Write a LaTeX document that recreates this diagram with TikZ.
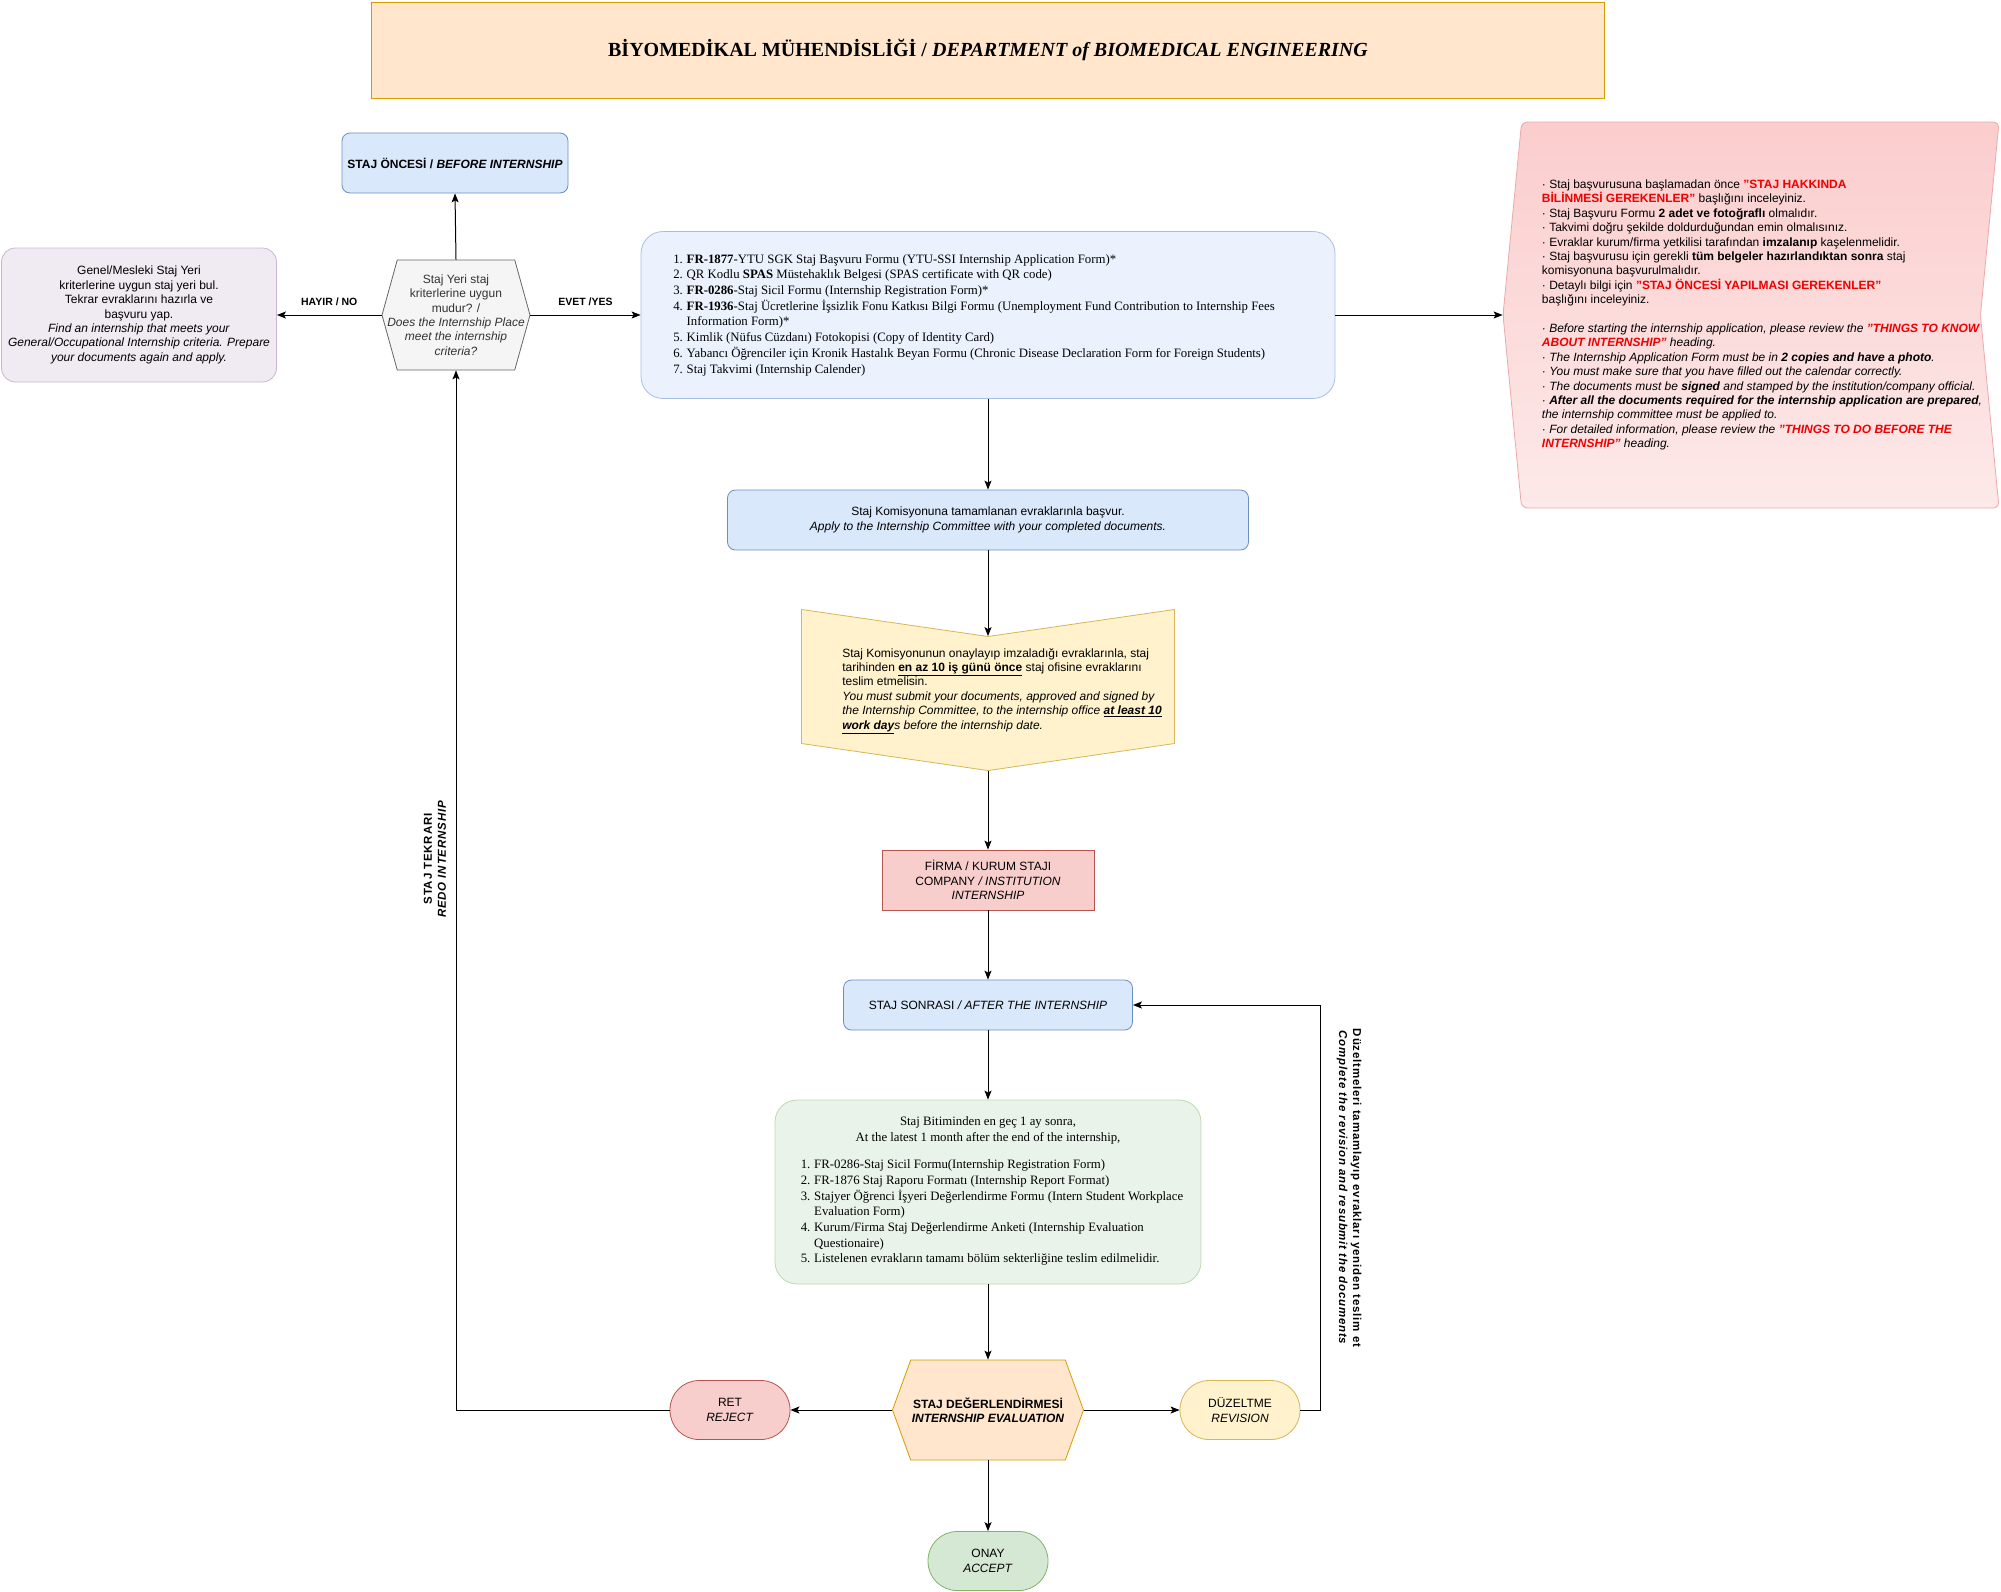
\documentclass[tikz,border=0pt]{standalone}
\usepackage{fontspec}
\setmainfont{Liberation Serif}
\setsansfont{Liberation Sans}
\usetikzlibrary{arrows.meta,shapes.symbols}

\definecolor{titlefill}{HTML}{FFE6CC}
\definecolor{titleline}{HTML}{D79B00}
\definecolor{bluefill}{HTML}{DAE8FC}
\definecolor{blueline}{HTML}{6C8EBF}
\definecolor{paleblue}{HTML}{EBF2FD}
\definecolor{paleblueline}{HTML}{A7BFE0}
\definecolor{greyfill}{HTML}{F5F5F5}
\definecolor{greyline}{HTML}{666666}
\definecolor{greytext}{HTML}{333333}
\definecolor{purplefill}{HTML}{F0EAF3}
\definecolor{purpleline}{HTML}{C8B5D2}
\definecolor{redfill}{HTML}{F8CECC}
\definecolor{redline}{HTML}{B85450}
\definecolor{notetop}{HTML}{FBCDCD}
\definecolor{notebottom}{HTML}{FDE9E9}
\definecolor{noteline}{HTML}{EBA9A7}
\definecolor{yellowfill}{HTML}{FFF2CC}
\definecolor{yellowline}{HTML}{D6B656}
\definecolor{greenfill}{HTML}{D5E8D4}
\definecolor{greenline}{HTML}{82B366}
\definecolor{palegreen}{HTML}{EAF3E9}
\definecolor{palegreenline}{HTML}{BFD8B1}
\definecolor{warnred}{HTML}{F00000}

\newcommand\warn[1]{\textcolor{warnred}{\textbf{#1}}}
\newcommand\ulbold[1]{\textbf{\underline{#1}}}

\tikzset{
  base/.style={draw, line width=0.8pt, align=center, inner sep=0pt,
    font=\sffamily\fontsize{12}{14.4}\selectfont},
  bluebox/.style={base, fill=bluefill, draw=blueline, rounded corners=8pt},
  pill/.style={base, rounded corners=29pt, minimum width=120pt, minimum height=59pt},
  hexa/.style={base, signal, signal to=west and east},
  inside/.style={align=center, inner sep=0pt, font=\sffamily\fontsize{12}{14.4}\selectfont},
  link/.style={-{Stealth[length=9pt,width=7pt,inset=2pt]}, line width=1pt},
  edgetext/.style={font=\sffamily\bfseries\fontsize{10.5}{12}\selectfont},
  sidetext/.style={align=center, font=\sffamily\bfseries\fontsize{11.5}{14}\selectfont\addfontfeature{LetterSpace=7}},
  listfont/.style={font=\rmfamily\fontsize{12.8}{15.7}\selectfont}
}

\begin{document}
\begin{tikzpicture}[x=1pt,y=-1pt]
\useasboundingbox (0,0) rectangle (2001,1591);

% header
\node[base, draw=titleline, fill=titlefill, minimum width=1233pt, minimum height=96pt,
  font=\rmfamily\bfseries\fontsize{20}{24}\selectfont] (title) at (988,50)
  {BİYOMEDİKAL MÜHENDİSLİĞİ / \textit{DEPARTMENT of  BIOMEDICAL ENGINEERING}};

% before the internship
\node[bluebox, minimum width=226pt, minimum height=60pt,
  font=\sffamily\bfseries\fontsize{12}{14.4}\selectfont] (before) at (455,163)
  {STAJ ÖNCESİ / \textit{BEFORE INTERNSHIP}};
\node[hexa, fill=greyfill, draw=greyline, minimum width=148pt, minimum height=110pt,
  signal pointer angle=149] (decide) at (456,315) {};
\node[inside, text=greytext] (decidetext) at (decide.center)
  {Staj Yeri staj\\kriterlerine uygun\\mudur? /\\\textit{Does the Internship Place}\\
   \textit{meet the internship}\\\textit{criteria?}};
\node[base, fill=purplefill, draw=purpleline, rounded corners=14pt,
  minimum width=275pt, minimum height=134pt] (retry) at (139,315)
  {Genel/Mesleki Staj Yeri\\kriterlerine uygun staj yeri bul.\\Tekrar evraklarını hazırla ve\\
   başvuru yap.\\\textit{Find an internship that meets your}\\
   \textit{General/Occupational Internship criteria. Prepare}\\\textit{your documents again and apply.}};
\node[base, listfont, fill=paleblue, draw=paleblueline, rounded corners=22pt,
  minimum width=694pt, minimum height=167pt] (docs) at (988,315)
  {\begin{tabular}{@{}r@{\hspace{0.3em}}l@{\hspace{28pt}}}
   1. & \textbf{FR-1877}-YTU SGK Staj Başvuru Formu (YTU-SSI Internship Application Form)*\\
   2. & QR Kodlu \textbf{SPAS} Müstehaklık Belgesi (SPAS certificate with QR code)\\
   3. & \textbf{FR-0286}-Staj Sicil Formu (Internship Registration Form)*\\
   4. & \textbf{FR-1936}-Staj Ücretlerine İşsizlik Fonu Katkısı Bilgi Formu (Unemployment Fund Contribution to Internship Fees\\
      & Information Form)*\\
   5. & Kimlik (Nüfus Cüzdanı) Fotokopisi (Copy of Identity Card)\\
   6. & Yabancı Öğrenciler için Kronik Hastalık Beyan Formu (Chronic Disease Declaration Form for Foreign Students)\\
   7. & Staj Takvimi (Internship Calender)
   \end{tabular}};
\node[base, signal, signal to=west, signal from=east, signal pointer angle=169,
  top color=notetop, bottom color=notebottom, draw=noteline, rounded corners=6pt,
  minimum width=496pt, minimum height=386pt] (note) at (1751,315) {};
\node[inside, align=left] (notetext) at (1762,315)
  {· Staj başvurusuna başlamadan önce \warn{"STAJ HAKKINDA}\\
   \warn{BİLİNMESİ GEREKENLER"} başlığını inceleyiniz.\\
   · Staj Başvuru Formu \textbf{2 adet ve fotoğraflı} olmalıdır.\\
   · Takvimi doğru şekilde doldurduğundan emin olmalısınız.\\
   · Evraklar kurum/firma yetkilisi tarafından \textbf{imzalanıp} kaşelenmelidir.\\
   · Staj başvurusu için gerekli \textbf{tüm belgeler hazırlandıktan sonra} staj\\
   komisyonuna başvurulmalıdır.\\
   · Detaylı bilgi için \warn{"STAJ ÖNCESİ YAPILMASI GEREKENLER"}\\
   başlığını inceleyiniz.\\[14.4pt]
   \textit{· Before starting the internship application, please review the \warn{"THINGS TO KNOW}}\\
   \textit{\warn{ABOUT INTERNSHIP"} heading.}\\
   \textit{· The Internship Application Form must be in \textbf{2 copies and have a photo}.}\\
   \textit{· You must make sure that you have filled out the calendar correctly.}\\
   \textit{· The documents must be \textbf{signed} and stamped by the institution/company official.}\\
   \textit{· \textbf{After all the documents required for the internship application are prepared},}\\
   \textit{the internship committee must be applied to.}\\
   \textit{· For detailed information, please review the \warn{"THINGS TO DO BEFORE THE}}\\
   \textit{\warn{INTERNSHIP"} heading.}};

% application and internship
\node[bluebox, minimum width=521pt, minimum height=60pt] (apply) at (988,520)
  {Staj Komisyonuna tamamlanan evraklarınla başvur.\\
   \textit{Apply to the Internship Committee with your completed documents.}};
\node[base, signal, signal to=south, signal from=north, signal pointer angle=163.5,
  fill=yellowfill, draw=yellowline, minimum width=373pt, minimum height=107pt] (deliver) at (988,690) {};
\node[inside, align=left] (delivertext) at (1002,691)
  {Staj Komisyonunun onaylayıp imzaladığı evraklarınla, staj\\
   tarihinden \ulbold{en az 10 iş günü önce} staj ofisine evraklarını\\
   teslim etmelisin.\\
   \textit{You must submit your documents, approved and signed by}\\
   \textit{the Internship Committee, to the internship office \ulbold{at least 10}}\\
   \textit{\ulbold{work day}s before the internship date.}};
\node[base, fill=redfill, draw=redline, minimum width=212pt, minimum height=60pt] (company) at (988,880)
  {FİRMA / KURUM STAJI\\COMPANY \textit{/ INSTITUTION}\\\textit{INTERNSHIP}};

% after the internship
\node[bluebox, minimum width=289pt, minimum height=50pt] (after) at (988,1005)
  {STAJ SONRASI \textit{/ AFTER THE INTERNSHIP}};
\node[base, listfont, fill=palegreen, draw=palegreenline, rounded corners=22pt,
  minimum width=426pt, minimum height=184pt] (final) at (988,1192)
  {Staj Bitiminden en geç 1 ay sonra,\\
   At the latest 1 month after the end of the internship,\\[13pt]
   \begin{tabular}{@{\hspace{8pt}}r@{\hspace{0.3em}}l@{}}
   1. & FR-0286-Staj Sicil Formu(Internship Registration Form)\\
   2. & FR-1876 Staj Raporu Formatı (Internship Report Format)\\
   3. & Stajyer Öğrenci İşyeri Değerlendirme Formu (Intern Student Workplace\\
      & Evaluation Form)\\
   4. & Kurum/Firma Staj Değerlendirme Anketi (Internship Evaluation\\
      & Questionaire)\\
   5. & Listelenen evrakların tamamı bölüm sekterliğine teslim edilmelidir.
   \end{tabular}};
\node[hexa, fill=titlefill, draw=titleline, minimum width=191pt, minimum height=100pt,
  signal pointer angle=140] (evaluate) at (988,1410) {};
\node[inside, font=\sffamily\bfseries\fontsize{12}{14.4}\selectfont] (evaluatetext) at (evaluate.center)
  {STAJ DEĞERLENDİRMESİ\\\textit{INTERNSHIP EVALUATION}};
\node[pill, fill=redfill, draw=redline] (reject) at (730,1410) {RET\\\textit{REJECT}};
\node[pill, fill=yellowfill, draw=yellowline] (revise) at (1240,1410) {DÜZELTME\\\textit{REVISION}};
\node[pill, fill=greenfill, draw=greenline] (accept) at (988,1561) {ONAY\\\textit{ACCEPT}};

% side labels
\node[sidetext, rotate=90] (redo) at (435,859) {STAJ TEKRARI\\\textit{REDO INTERNSHIP}};
\node[sidetext, rotate=-90] (resubmit) at (1349,1188)
  {Düzeltmeleri tamamlayıp evrakları yeniden teslim et\\\textit{Complete the revision and resubmit the documents}};
\coordinate (loopturn) at (1320,1005);

% connectors
\draw[link] (decide.north) -- (before.south);
\draw[link] (decide.west) -- node[edgetext, above=5pt] (nolabel) {HAYIR / NO} (retry.east);
\draw[link] (decide.east) -- node[edgetext, above=5pt] (yeslabel) {EVET /YES} (docs.west);
\draw[link] (docs.east) -- (note.west);
\draw[link] (docs.south) -- (apply.north);
\draw[link] (apply.south) -- (deliver.north);
\draw[link] (deliver.south) -- (company.north);
\draw[link] (company.south) -- (after.north);
\draw[link] (after.south) -- (final.north);
\draw[link] (final.south) -- (evaluate.north);
\draw[link] (evaluate.west) -- (reject.east);
\draw[link] (evaluate.east) -- (revise.west);
\draw[link] (evaluate.south) -- (accept.north);
\draw[link] (revise.east) -| (loopturn) -- (after.east);
\draw[link] (reject.west) -| (decide.south);
\end{tikzpicture}
\end{document}
